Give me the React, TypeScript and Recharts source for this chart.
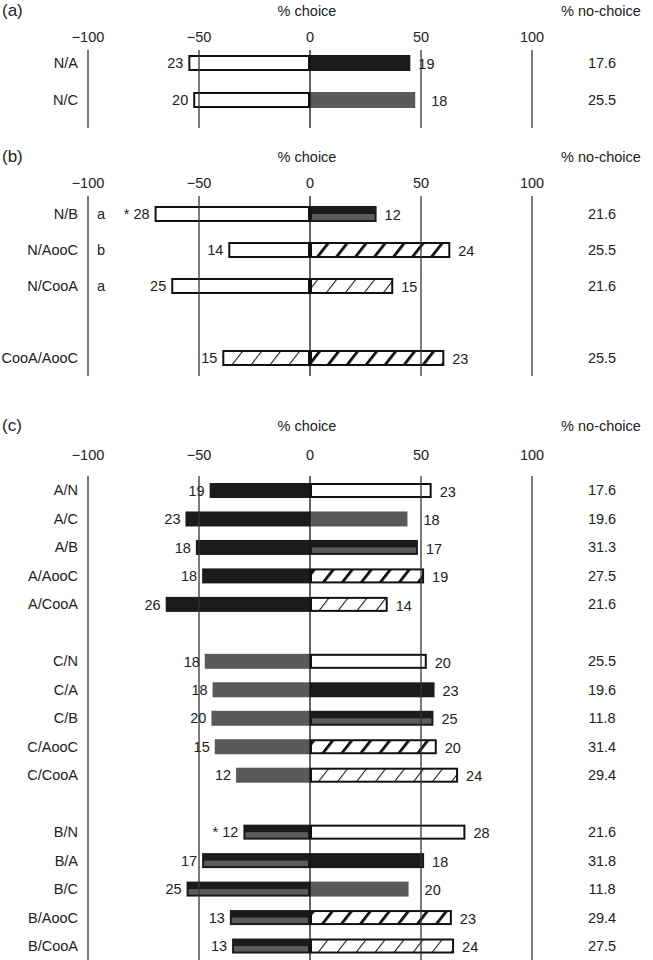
import React from "react";
import { BarChart, Bar, XAxis, YAxis, ReferenceLine } from "recharts";

const FONT = '"Liberation Sans", Arial, Helvetica, sans-serif';
const INK = "#222";
const FS = 14.5;

const ticks = [-100, -50, 0, 50, 100];
const starred = ["N/B", "B/N"];

// (a)
const pairsA = ["N/A", "N/C"];
const leftPctA = [54.8, 52.6];
const rightPctA = [45.2, 47.4];
const leftNA = [23, 20];
const rightNA = [19, 18];
const noChoiceA = [17.6, 25.5];

// (b)
const pairsB = ["N/B", "N/AooC", "N/CooA", "", "CooA/AooC"];
const leftPctB = [70, 36.8, 62.5, null, 39.5];
const rightPctB = [30, 63.2, 37.5, null, 60.5];
const leftNB = [28, 14, 25, null, 15];
const rightNB = [12, 24, 15, null, 23];
const noChoiceB = [21.6, 25.5, 21.6, null, 25.5];
const lettersB = ["a", "b", "a", "", ""];

// (c)
const pairsC = [
  "A/N", "A/C", "A/B", "A/AooC", "A/CooA", "",
  "C/N", "C/A", "C/B", "C/AooC", "C/CooA", "",
  "B/N", "B/A", "B/C", "B/AooC", "B/CooA",
];
const leftPctC = [45.2, 56.1, 51.4, 48.6, 65, null, 47.4, 43.9, 44.4, 42.9, 33.3, null, 30, 48.6, 55.6, 36.1, 35.1];
const rightPctC = [54.8, 43.9, 48.6, 51.4, 35, null, 52.6, 56.1, 55.6, 57.1, 66.7, null, 70, 51.4, 44.4, 63.9, 64.9];
const leftNC = [19, 23, 18, 18, 26, null, 18, 18, 20, 15, 12, null, 12, 17, 25, 13, 13];
const rightNC = [23, 18, 17, 19, 14, null, 20, 23, 25, 20, 24, null, 28, 18, 20, 23, 24];
const noChoiceC = [17.6, 19.6, 31.3, 27.5, 21.6, null, 25.5, 19.6, 11.8, 31.4, 29.4, null, 21.6, 31.8, 11.8, 29.4, 27.5];

function buildRows(pairs: string[], lp: any[], rp: any[], ln: any[], rn: any[], nc: any[], letters: string[] = []) {
  return pairs.map((p, i) => ({
    key: p || `gap${i}`,
    pair: p,
    left: lp[i] == null ? null : -lp[i],
    right: rp[i],
    ln: ln[i],
    rn: rn[i],
    nc: nc[i],
    lk: p ? p.split("/")[0] : "",
    rk: p ? p.split("/")[1] : "",
    letter: letters[i] || "",
    star: starred.includes(p),
  }));
}

const rowsA = buildRows(pairsA, leftPctA, rightPctA, leftNA, rightNA, noChoiceA);
const rowsB = buildRows(pairsB, leftPctB, rightPctB, leftNB, rightNB, noChoiceB, lettersB);
const rowsC = buildRows(pairsC, leftPctC, rightPctC, leftNC, rightNC, noChoiceC);

function swatch(kind: string, x: number, y: number, w: number, h: number) {
  switch (kind) {
    case "N":
      return <rect x={x + 1} y={y + 1} width={w - 2} height={h - 2} fill="#fff" stroke="#111" strokeWidth={2} />;
    case "A":
      return <rect x={x} y={y} width={w} height={h} fill="#1b1b1b" />;
    case "C":
      return <rect x={x} y={y} width={w} height={h} fill="#595959" />;
    case "B":
      return (
        <g>
          <rect x={x} y={y} width={w} height={h} fill="#1b1b1b" />
          <rect x={x + 2} y={y + h * 0.5} width={w - 4} height={h * 0.5 - 2} fill="#5c5c5c" />
        </g>
      );
    case "AooC":
      return <rect x={x + 1} y={y + 1} width={w - 2} height={h - 2} fill="url(#hatchThick)" stroke="#111" strokeWidth={2} />;
    case "CooA":
      return <rect x={x + 1} y={y + 1} width={w - 2} height={h - 2} fill="url(#hatchThin)" stroke="#111" strokeWidth={2} />;
    default:
      return null;
  }
}

function SideBar(props: any) {
  const { x, y, width, height, payload, side } = props;
  if (!payload || !width || !height) return null;
  const kind = side === "left" ? payload.lk : payload.rk;
  if (!kind) return null;
  const x0 = width < 0 ? x + width : x;
  const w = Math.abs(width);
  const y0 = height < 0 ? y + height : y;
  const h = Math.abs(height);
  const cy = y0 + h / 2;
  let label = null;
  if (side === "left") {
    label = (
      <text x={x0 - 5} y={cy} dy="0.36em" textAnchor="end" fontSize={FS} fill={INK} fontFamily={FONT}>
        {payload.star ? "* " : ""}
        {payload.ln}
      </text>
    );
  } else {
    const gap = kind === "C" ? 16 : 8;
    label = (
      <text x={x0 + w + gap} y={cy + 1} dy="0.36em" textAnchor="start" fontSize={FS} fill={INK} fontFamily={FONT}>
        {payload.rn}
      </text>
    );
  }
  return (
    <g>
      {swatch(kind, x0, y0, w, h)}
      {label}
    </g>
  );
}

function Panel({ top, height, marginTop, marginBottom, tickMargin, padding, barSize, rows }: any) {
  const leftTick = (p: any) => {
    const r = rows.find((d: any) => d.key === p.payload.value);
    if (!r || !r.pair) return <g />;
    return (
      <g>
        <text x={78} y={p.y} dy="0.36em" textAnchor="end" fontSize={FS} fill={INK} fontFamily={FONT}>
          {r.pair}
        </text>
        {r.letter ? (
          <text x={101} y={p.y} dy="0.36em" textAnchor="middle" fontSize={FS} fill={INK} fontFamily={FONT}>
            {r.letter}
          </text>
        ) : null}
      </g>
    );
  };
  const rightTick = (p: any) => {
    const r = rows.find((d: any) => d.key === p.payload.value);
    if (!r || r.nc == null) return <g />;
    return (
      <text x={602} y={p.y} dy="0.36em" textAnchor="middle" fontSize={FS} fill={INK} fontFamily={FONT}>
        {r.nc.toFixed(1)}
      </text>
    );
  };
  return (
    <div style={{ position: "absolute", left: 0, top }}>
      <BarChart
        width={653}
        height={height}
        data={rows}
        layout="vertical"
        stackOffset="sign"
        margin={{ top: marginTop, right: 0, bottom: marginBottom, left: 0 }}
      >
        <XAxis
          type="number"
          orientation="top"
          domain={[-100, 100]}
          ticks={ticks}
          interval={0}
          height={30}
          axisLine={false}
          tickLine={false}
          tickMargin={tickMargin}
          tick={{ fontSize: FS, fill: INK, fontFamily: FONT }}
          tickFormatter={(v: number) => (v < 0 ? `\u2212${-v}` : `${v}`)}
        />
        <YAxis
          type="category"
          dataKey="key"
          width={88}
          interval={0}
          axisLine={false}
          tickLine={false}
          padding={padding}
          tick={leftTick}
        />
        <YAxis
          yAxisId="r"
          orientation="right"
          type="category"
          dataKey="key"
          width={121}
          interval={0}
          axisLine={false}
          tickLine={false}
          padding={padding}
          tick={rightTick}
        />
        <Bar
          dataKey="left"
          stackId="s"
          barSize={barSize}
          isAnimationActive={false}
          shape={(p: any) => <SideBar {...p} side="left" />}
        />
        <Bar
          dataKey="right"
          stackId="s"
          barSize={barSize}
          isAnimationActive={false}
          shape={(p: any) => <SideBar {...p} side="right" />}
        />
        {ticks.map((t) => (
          <ReferenceLine key={t} x={t} stroke={t === 0 ? "#111" : "#333"} strokeWidth={1.3} />
        ))}
      </BarChart>
    </div>
  );
}

function Header({ label, y }: { label: string; y: number }) {
  const base: React.CSSProperties = { position: "absolute", fontFamily: FONT, color: INK, whiteSpace: "nowrap" };
  return (
    <>
      <div style={{ ...base, left: 2, top: y - 10, fontSize: 17, lineHeight: "20px" }}>{label}</div>
      <div style={{ ...base, left: 307 - 60, width: 120, textAlign: "center", top: y - 8, fontSize: FS, lineHeight: "17px" }}>
        % choice
      </div>
      <div style={{ ...base, left: 601 - 60, width: 120, textAlign: "center", top: y - 8, fontSize: FS, lineHeight: "17px" }}>
        % no-choice
      </div>
    </>
  );
}

export default function App() {
  return (
    <div style={{ position: "absolute", left: 0, top: 0, width: 653, height: 960, background: "#fff", overflow: "hidden" }}>
      <svg width={0} height={0} style={{ position: "absolute" }}>
        <defs>
          <pattern id="hatchThick" patternUnits="userSpaceOnUse" width={19} height={19} patternTransform="skewX(-38)">
            <rect width={19} height={19} fill="#fff" />
            <rect x={8} y={0} width={3.6} height={19} fill="#111" />
          </pattern>
          <pattern id="hatchThin" patternUnits="userSpaceOnUse" width={19} height={19} patternTransform="skewX(-38)">
            <rect width={19} height={19} fill="#fff" />
            <rect x={8} y={0} width={1.3} height={19} fill="#111" />
          </pattern>
        </defs>
      </svg>
      <Header label="(a)" y={11} />
      <Panel top={0} height={135} marginTop={20} marginBottom={7} tickMargin={2} padding={{ top: -6, bottom: 10 }} barSize={16} rows={rowsA} />
      <Header label="(b)" y={157} />
      <Panel top={140} height={240} marginTop={26} marginBottom={4} tickMargin={2} padding={{ top: 0, bottom: 0 }} barSize={16} rows={rowsB} />
      <Header label="(c)" y={426} />
      <Panel top={400} height={560} marginTop={46} marginBottom={0} tickMargin={10} padding={{ top: 0, bottom: 0 }} barSize={15} rows={rowsC} />
    </div>
  );
}
